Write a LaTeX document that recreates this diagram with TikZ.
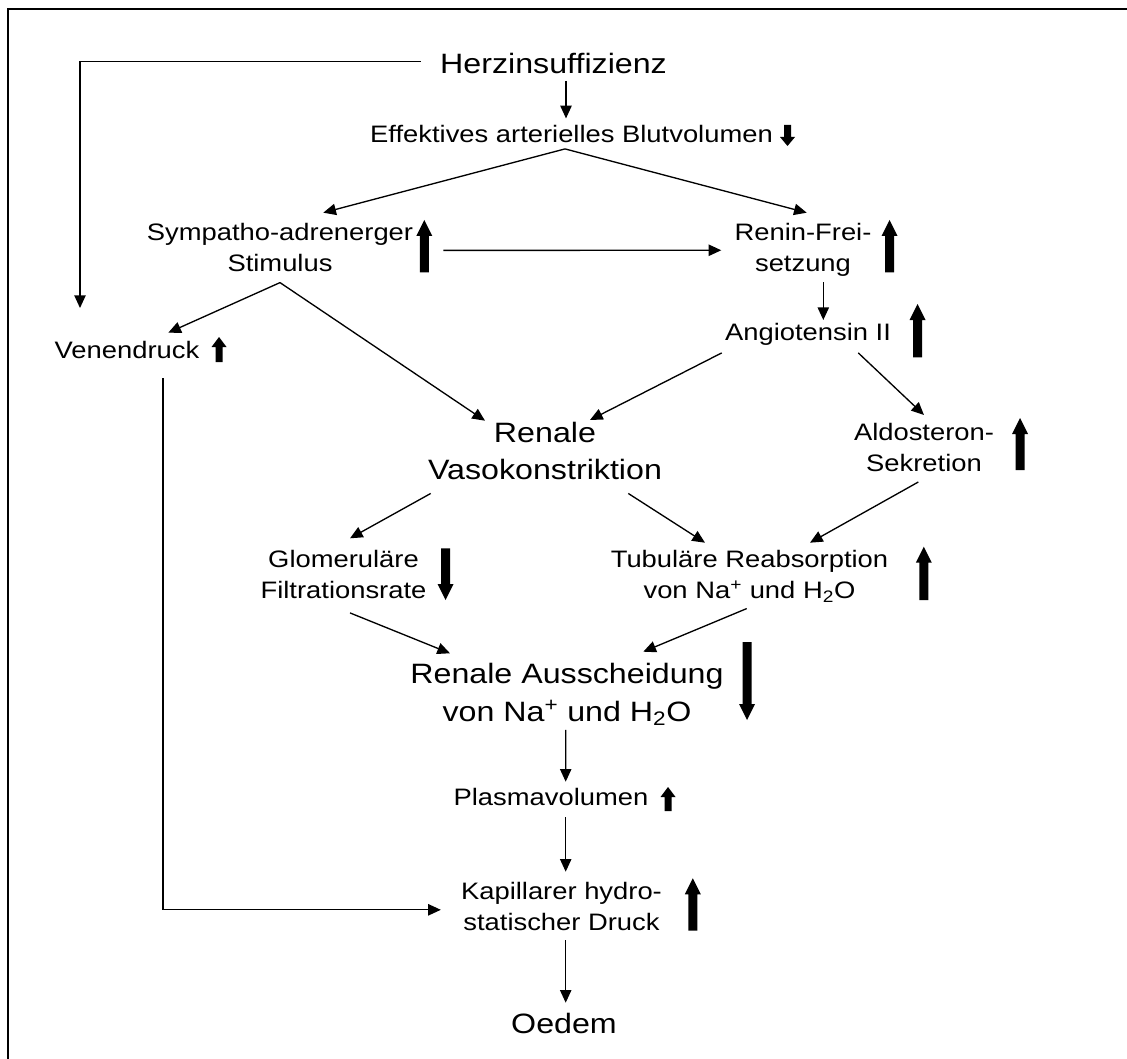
\documentclass[tikz,border=0pt]{standalone}
\usepackage{fontspec}
\setmainfont{Liberation Sans}[FakeStretch=1.15]
\usetikzlibrary{arrows.meta,calc}
% #1 x, #2 tip y, #3 tail y, #4 head half width, #5 shaft half width, #6 head length
\newcommand\fatup[6]{\fill (#1,#2) -- (#1+#4,#2+#6) -- (#1+#5,#2+#6) -- (#1+#5,#3) -- (#1-#5,#3) -- (#1-#5,#2+#6) -- (#1-#4,#2+#6) -- cycle;}
\newcommand\fatdown[6]{\fill (#1,#2) -- (#1+#4,#2-#6) -- (#1+#5,#2-#6) -- (#1+#5,#3) -- (#1-#5,#3) -- (#1-#5,#2-#6) -- (#1-#4,#2-#6) -- cycle;}
\begin{document}
\begin{tikzpicture}[x=0.75pt,y=-0.75pt,
  txt/.style={font=\fontsize{17.85}{23.25}\selectfont,align=center,inner sep=0pt,anchor=north},
  bigtxt/.style={font=\fontsize{21}{28.1}\selectfont,align=center,inner sep=0pt,anchor=north},
  ln/.style={line width=1pt},
  arr/.style={line width=1pt,-{Triangle[length=9.5pt,width=8.5pt]}}]
\useasboundingbox (0,0) rectangle (1127,1059);
\draw[line width=1.5pt] (8,1059) -- (8,9) -- (1127,9);

\node[bigtxt] (herz) at (553.5,52.8) {Herzinsuffizienz};
\node[txt] (eff) at (571.5,124.9) {Effektives arterielles Blutvolumen};
\node[txt] (symp) at (280,222.9) {Sympatho-adrenerger\\Stimulus};
\node[txt] (renin) at (803,222.9) {Renin-Frei-\\setzung};
\node[txt] (ang) at (808,322.9) {Angiotensin II};
\node[txt] (ven) at (127,341) {Venendruck};
\node[bigtxt] (rvaso) at (545,421.5) {Renale\\Vasokonstriktion};
\node[txt] (aldo) at (924,423) {Aldosteron-\\Sekretion};
\node[txt] (glom) at (343.5,549.6) {Glomeruläre\\Filtrationsrate};
\node[txt] (tub) at (749.5,550.4) {Tubuläre Reabsorption\\von Na\textsuperscript{+} und H\textsubscript{2}O};
\node[bigtxt] (raus) at (567,663.1) {Renale Ausscheidung\\von Na\textsuperscript{+} und H\textsubscript{2}O};
\node[txt] (plasma) at (551,788) {Plasmavolumen};
\node[txt] (kap) at (561.5,882) {Kapillarer hydro-\\statischer Druck};
\node[bigtxt] (oedem) at (564,1013) {Oedem};

% connectors
\draw[arr] ($(herz.south)+(12.5,7)$) -- ($(eff.north)+(-5.5,-6.5)$);
\draw[arr] ($(herz.west)+(-19,-2)$) -| ($(ven.north)+(-47,-33)$);
\draw[arr] ($(eff.south)+(-6.5,6)$) -- ($(symp.north)+(43.3,-10.2)$);
\draw[arr] ($(eff.south)+(-6.5,6)$) -- ($(renin.north)+(3.7,-10.2)$);
\draw[arr] ($(symp.east)+(30,3)$) -- ($(renin.west)+(-13,0.5)$);
\draw[arr] ($(renin.south)+(20.3,5.7)$) -- ($(ang.north)+(15.3,-2.9)$);
\draw[arr] ($(symp.south)+(0,10.7)$) -- ($(ven.north)+(41.3,-8.3)$);
\draw[arr] ($(symp.south)+(0,10.7)$) -- ($(rvaso.north)+(-60,-0.8)$);
\draw[arr] ($(ang.south)+(-86.3,7.3)$) -- ($(rvaso.north)+(45,-1.5)$);
\draw[arr] ($(ang.south)+(50.3,7.3)$) -- ($(aldo.north)+(0,-8)$);
\draw[arr] ($(rvaso.south)+(-114.3,13.4)$) -- ($(glom.north)+(6.5,-11.3)$);
\draw[arr] ($(rvaso.south)+(83.3,13.4)$) -- ($(tub.north)+(-44.5,-7.7)$);
\draw[arr] ($(aldo.south)+(-5.7,10)$) -- ($(tub.north)+(60.5,-7.7)$);
\draw[arr] ($(glom.south)+(6.5,14.3)$) -- ($(raus.north)+(-117,-9.8)$);
\draw[arr] ($(tub.south)+(-2.8,5.7)$) -- ($(raus.north)+(76.3,-11.4)$);
\draw[arr] ($(raus.south)+(-1.3,4.3)$) -- ($(plasma.north)+(14.7,-6.3)$);
\draw[arr] ($(plasma.south)+(14.7,11)$) -- ($(kap.north)+(4.2,-10.3)$);
\draw[arr] ($(kap.south)+(4.2,9)$) -- ($(oedem.north)+(1.7,-10.3)$);
\draw[arr] ($(ven.south)+(36,19)$) |- ($(kap.west)+(-20,3.3)$);

% fat arrows
\fatdown{787.5}{146}{125}{7.5}{3.5}{9}
\fatup{424.3}{220}{272.3}{8}{4.5}{16}
\fatup{889.5}{220}{272.3}{8}{4.5}{16}
\fatup{917.5}{304}{357.3}{8}{4.5}{16}
\fatup{219}{337}{362}{7.5}{3.5}{10}
\fatup{1020}{418}{470}{8}{4.5}{16}
\fatdown{445.5}{600}{548.3}{8}{4.5}{16}
\fatup{923.8}{546.7}{600}{8}{4.5}{16}
\fatdown{747}{720}{642}{8}{4.5}{16}
\fatup{668}{787}{811}{7.5}{3.5}{10}
\fatup{692.8}{878.3}{930.7}{8}{4.5}{16}
\end{tikzpicture}
\end{document}
